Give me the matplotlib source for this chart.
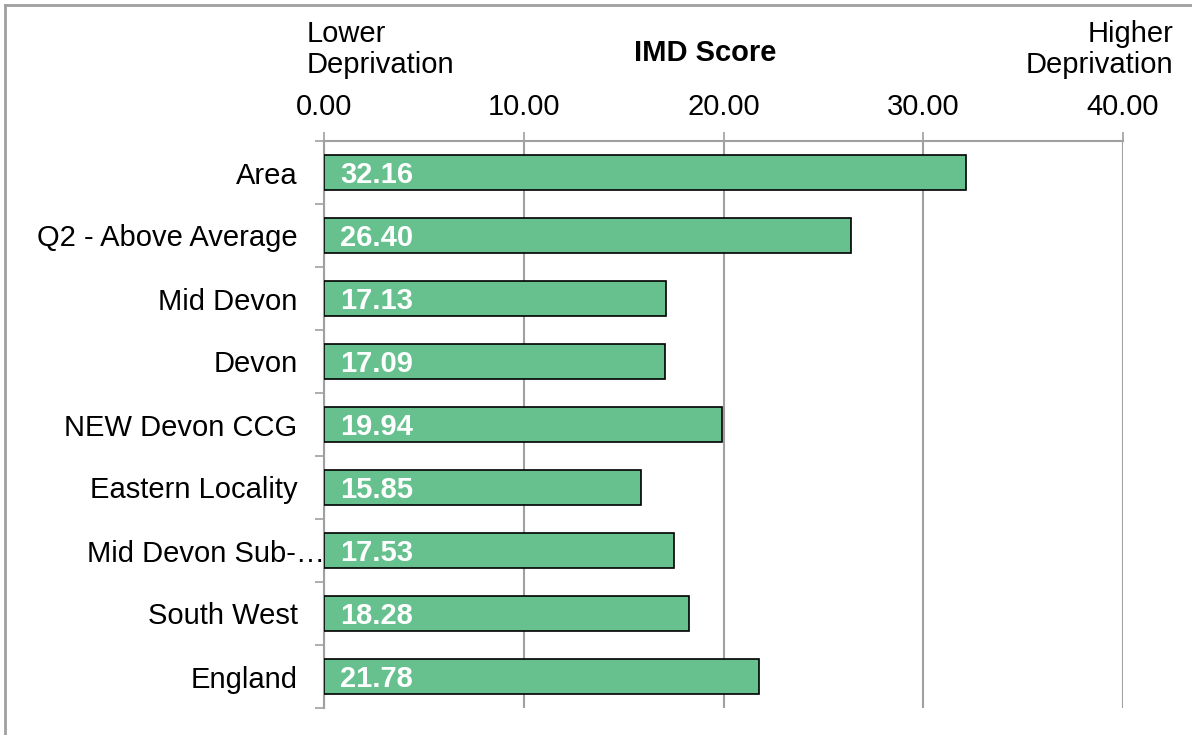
import matplotlib.pyplot as plt
import matplotlib.transforms as mtransforms
import numpy as np
from matplotlib.lines import Line2D

categories = [
    "Area",
    "Q2 - Above Average",
    "Mid Devon",
    "Devon",
    "NEW Devon CCG",
    "Eastern Locality",
    "Mid Devon Sub-\u2026",
    "South West",
    "England",
]
imd_scores = [32.16, 26.40, 17.13, 17.09, 19.94, 15.85, 17.53, 18.28, 21.78]
x_ticks = [0, 10, 20, 30, 40]

plt.rcParams["font.family"] = ["Liberation Sans", "DejaVu Sans"]
plt.rcParams["font.size"] = 21

BAR_GREEN = "#66C18E"
GREY = "#A0A0A0"

fig = plt.figure(figsize=(11.92, 7.35), dpi=100)
ax = fig.add_axes([324 / 1192, 1 - 708 / 735, 799 / 1192, 567 / 735])

y = np.arange(len(categories))
ax.barh(y, imd_scores, height=0.57, color=BAR_GREEN, edgecolor="black",
        linewidth=1.2, zorder=3)
for yi, v in zip(y, imd_scores):
    ax.annotate(f"{v:.2f}", xy=(0, yi), xytext=(11.5, -1.5), textcoords="offset points",
                ha="left", va="center", color="white", fontweight="bold",
                fontsize=21, zorder=4)

ax.set_xlim(0, 40)
ax.set_ylim(len(categories) - 0.5, -0.5)
ax.xaxis.tick_top()
ax.set_xticks(x_ticks, [f"{t:.2f}" for t in x_ticks])
ax.set_yticks(y, categories)
ax.set_yticks(np.arange(-0.5, len(categories), 1), minor=True)
ax.tick_params(axis="x", which="major", direction="out", length=6.5, width=1.2,
               color=GREY, pad=8, labelsize=21)
ax.tick_params(axis="y", which="major", length=0, pad=19, labelsize=21)
ax.tick_params(axis="y", which="minor", direction="out", length=6.5, width=1.2,
               color=GREY)
ax.grid(axis="x", color=GREY, linewidth=1.5, zorder=0)
ax.set_axisbelow(True)
for side in ("right", "bottom"):
    ax.spines[side].set_visible(False)
for side in ("top", "left"):
    ax.spines[side].set_color(GREY)
    ax.spines[side].set_linewidth(1.5)

# the clipped label runs right up to the axis, as in the source chart
clipped = ax.get_yticklabels()[categories.index("Mid Devon Sub-\u2026")]
clipped.set_transform(clipped.get_transform()
                      + mtransforms.ScaledTranslation(27 / 100, 0, fig.dpi_scale_trans))

fig.text(307 / 1192, 1 - 20 / 735, "Lower\nDeprivation", ha="left", va="top",
         fontsize=21, linespacing=1.15, multialignment="left")
fig.text(705 / 1192, 1 - 53 / 735, "IMD Score", ha="center", va="center",
         fontsize=21, fontweight="bold")
fig.text(1173 / 1192, 1 - 20 / 735, "Higher\nDeprivation", ha="right", va="top",
         fontsize=21, linespacing=1.15, multialignment="right")

# outer frame (only top and left edges fall inside the image)
fig.add_artist(Line2D([5 / 1192, 5 / 1192], [0, 1 - 5 / 735], transform=fig.transFigure,
                      color=GREY, linewidth=2))
fig.add_artist(Line2D([5 / 1192, 1], [1 - 5 / 735, 1 - 5 / 735], transform=fig.transFigure,
                      color=GREY, linewidth=2))

fig.savefig("out.png", dpi=100)
